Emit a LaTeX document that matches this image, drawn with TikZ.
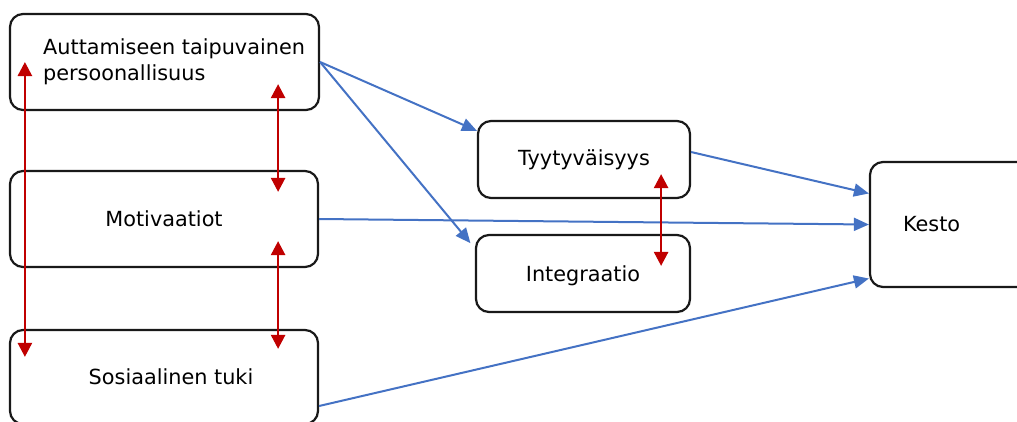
\documentclass[tikz,border=0pt]{standalone}
\usepackage{fontspec}
\setmainfont{DejaVu Sans}
\usetikzlibrary{arrows.meta}

\definecolor{linkblue}{RGB}{68,114,196}
\definecolor{linkred}{RGB}{192,0,0}

\tikzstyle{box}=[draw=black!90, fill=white, line width=2.2pt, rounded corners=13pt, inner sep=0pt, text centered]
\tikzstyle{effect}=[draw=linkblue, line width=2pt, -{Triangle[length=15pt,width=13pt]}]
\tikzstyle{corr}=[draw=linkred, line width=2.6pt, {Triangle[length=14pt,width=14pt]}-{Triangle[length=14pt,width=14pt]}]

\begin{document}
\begin{tikzpicture}[x=1pt, y=-1pt, every node/.style={font=\fontsize{20.8}{26}\selectfont}]
        \useasboundingbox (0,0) rectangle (1017,421);

        \node[box, minimum width=309pt, minimum height=96pt](pers) at (164.5, 62) {};
        \node[anchor=west, align=left, inner sep=0pt](perstext) at (43, 62) {Auttamiseen taipuvainen\\persoonallisuus};
        \node[box, minimum width=308pt, minimum height=96pt](motiv) at (164, 219) {Motivaatiot};
        \node[box, minimum width=308pt, minimum height=94pt](tuki) at (164, 377) {\hspace*{14pt}Sosiaalinen tuki};

        \node[box, minimum width=212pt, minimum height=77pt](tyyt) at (584, 159.5) {Tyytyväisyys};
        \node[box, minimum width=214pt, minimum height=77pt, text depth=0pt](integ) at (583, 273.5) {Integraatio};

        \node[box, text width=124pt, align=left, inner xsep=33pt, minimum height=125pt](kesto) at (965, 224.5) {Kesto};

        \begin{scope}[every path/.style={effect}]
            \draw (pers.east) -- (tyyt.165);
            \draw[shorten >=7pt] (pers.east) -- (integ.167);
            \draw (tyyt.4) -- ([yshift=31pt]kesto.west);
            \draw (motiv.east) -- (kesto.west);
            \draw ([yshift=-29pt]tuki.east) -- ([yshift=-54pt]kesto.west);
        \end{scope}

        \begin{scope}[every path/.style={corr}]
            \draw ([xshift=16pt]pers.west) -- ([shift={(16pt,-28pt)}]tuki.north west);
            \draw ([shift={(-42pt,27pt)}]pers.south east) -- ([shift={(-41pt,-22pt)}]motiv.north east);
            \draw ([shift={(-41pt,27pt)}]motiv.south east) -- ([shift={(-41pt,-20pt)}]tuki.north east);
            \draw ([shift={(-30pt,25pt)}]tyyt.south east) -- ([shift={(-30pt,-32pt)}]integ.north east);
        \end{scope}
    \end{tikzpicture}
\end{document}
